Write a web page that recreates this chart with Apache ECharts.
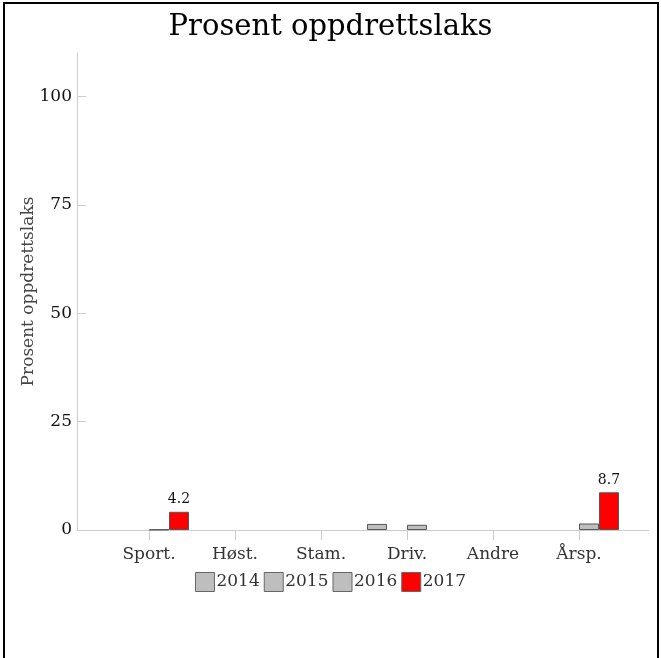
<!DOCTYPE html>
<html>
<head>
<meta charset="utf-8">
<script src="https://cdn.jsdelivr.net/npm/echarts@6/dist/echarts.min.js"></script>
<style>
  html, body { margin: 0; padding: 0; background: #fff; }
  #chart { position: absolute; left: 0; top: 0; width: 661px; height: 658px; }
  #frame { position: absolute; left: 3px; top: 2px; width: 652px; height: 700px; border: 2px solid #000; pointer-events: none; }
</style>
</head>
<body>
<div id="chart"></div>
<div id="frame"></div>
<script>
const titleText = 'Prosent oppdrettslaks';
const yAxisName = 'Prosent oppdrettslaks';
const categories = ['Sport.', 'Høst.', 'Stam.', 'Driv.', 'Andre', 'Årsp.'];
const seriesNames = ['2014', '2015', '2016', '2017'];
const values2014 = [0, 0, 0, 1.4, 0, 0];
const values2015 = [0, 0, 0, 0, 0, 0];
const values2016 = [0.1, 0, 0, 1.2, 0, 1.5];
const values2017 = [4.2, 0, 0, 0, 0, 8.7];
const yTicks = [0, 25, 50, 75, 100];
const yMax = 110;

const FONT = 'DejaVu Serif';
const allValues = [values2014, values2015, values2016, values2017];
const fills = ['#bebebe', '#bebebe', '#bebebe', '#ff0000'];

const chart = echarts.init(document.getElementById('chart'), null, { renderer: 'canvas' });

const series = seriesNames.map((name, i) => ({
  name: name,
  type: 'bar',
  xAxisIndex: 1,
  yAxisIndex: 1,
  barWidth: 20,
  barGap: '0%',
  data: allValues[i].map(v => (v === 0 ? null : v)),
  itemStyle: { color: fills[i], borderColor: '#555', borderWidth: 1 },
  label: {
    show: i === 3,
    position: 'top',
    distance: 5,
    fontFamily: FONT,
    fontSize: 14,
    color: '#111'
  }
}));

chart.setOption({
  animation: false,
  backgroundColor: '#fff',
  title: {
    text: titleText,
    left: 'center',
    top: 8,
    textStyle: { fontFamily: FONT, fontSize: 29, fontWeight: 'normal', color: '#000' }
  },
  legend: {
    data: seriesNames,
    left: 'center',
    top: 567,
    itemWidth: 19,
    itemHeight: 19,
    itemGap: 4,
    icon: 'rect',
    itemStyle: { borderColor: '#666', borderWidth: 1 },
    textStyle: { fontFamily: FONT, fontSize: 17, color: '#333', padding: [0, 0, 0, -3] }
  },
  grid: [
    { left: 77, right: 12, top: 53, bottom: 128 },
    { left: 106, right: 39, top: 53, bottom: 128 }
  ],
  xAxis: [
    {
      type: 'value', gridIndex: 0, min: 0, max: 1,
      axisLine: { show: true, lineStyle: { color: '#cccccc', width: 1 } },
      axisTick: { show: false }, axisLabel: { show: false }, splitLine: { show: false }
    },
    {
      type: 'category', gridIndex: 1, data: categories,
      axisLine: { show: false },
      axisTick: { show: true, alignWithLabel: true, length: 10, lineStyle: { color: '#cccccc' } },
      axisLabel: { fontFamily: FONT, fontSize: 17, color: '#333', margin: 16 },
      splitLine: { show: false }
    }
  ],
  yAxis: [
    {
      type: 'value', gridIndex: 0, min: 0, max: yMax, interval: 25,
      name: yAxisName, nameLocation: 'middle', nameGap: 40, nameMoveOverlap: false,
      nameTextStyle: { fontFamily: FONT, fontSize: 17, color: '#444' },
      axisLine: { show: true, lineStyle: { color: '#cccccc', width: 1 } },
      axisTick: { show: true, inside: true, length: 9, customValues: yTicks, lineStyle: { color: '#cccccc' } },
      axisLabel: { fontFamily: FONT, fontSize: 17, color: '#111', margin: 5, customValues: yTicks },
      splitLine: { show: false }
    },
    {
      type: 'value', gridIndex: 1, min: 0, max: yMax, interval: 25, show: false,
      splitLine: { show: false }
    }
  ],
  series: series
});
</script>
</body>
</html>
